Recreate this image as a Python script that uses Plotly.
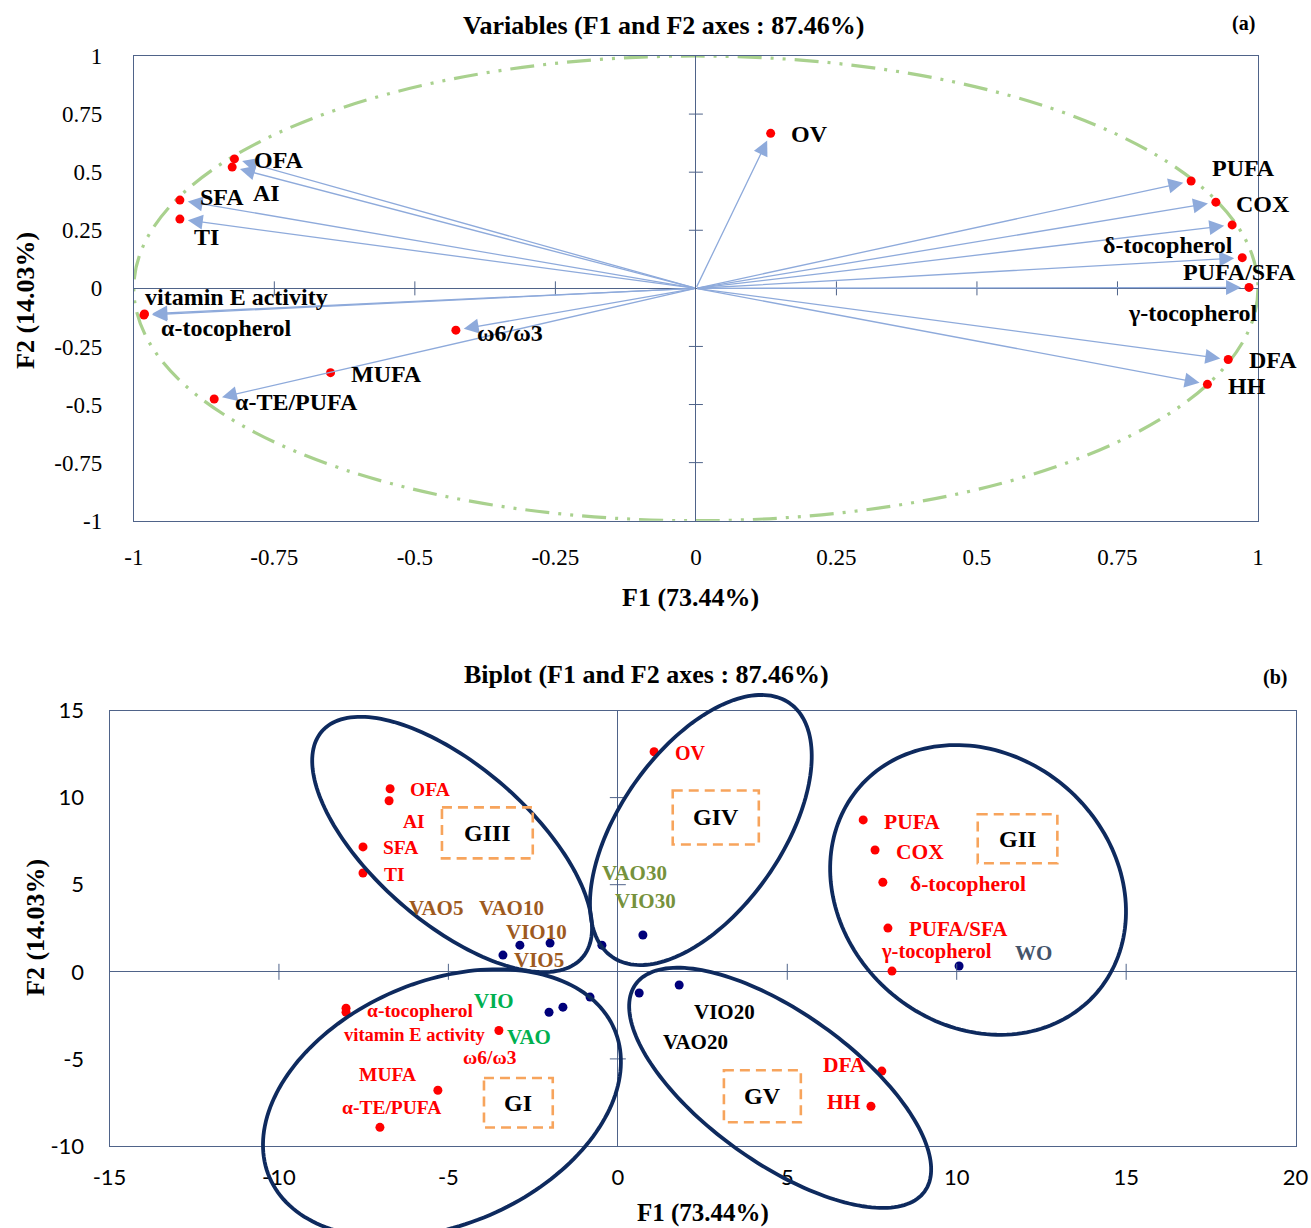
import numpy as np
import plotly.graph_objects as go

# ---------------------------------------------------------------- data
VARIABLES = ["OV", "OFA", "AI", "SFA", "TI", "vitamin E activity", "α-tocopherol",
             "ω6/ω3", "MUFA", "α-TE/PUFA", "PUFA", "COX", "δ-tocopherol",
             "PUFA/SFA", "γ-tocopherol", "DFA", "HH"]
LOADING_F1 = [0.133, -0.821, -0.825, -0.918, -0.918, -0.981, -0.982,
              -0.427, -0.650, -0.857, 0.881, 0.925, 0.954,
              0.972, 0.984, 0.947, 0.910]
LOADING_F2 = [0.667, 0.557, 0.522, 0.380, 0.298, -0.110, -0.115,
              -0.180, -0.363, -0.476, 0.462, 0.371, 0.273,
              0.132, 0.004, -0.306, -0.413]
BIPLOT_VAR_F1 = [1.07, -6.72, -6.75, -7.52, -7.52, -8.02, -8.02,
                 -3.51, -5.31, -7.02, 7.24, 7.59, 7.82,
                 7.97, 8.09, 7.79, 7.47]
BIPLOT_VAR_F2 = [12.63, 10.51, 9.82, 7.17, 5.67, -2.32, -2.09,
                 -3.37, -6.80, -8.93, 8.72, 6.99, 5.14,
                 2.51, 0.04, -5.70, -7.72]
OBSERVATIONS = ["VAO", "VAO5", "VAO10", "VAO20", "VAO30",
                "VIO", "VIO5", "VIO10", "VIO20", "VIO30", "WO"]
OBS_F1 = [-1.62, -3.39, -2.00, 0.63, 0.74, -2.03, -2.89, -0.82, 1.81, -0.47, 10.07]
OBS_F2 = [-2.03, 0.96, 1.65, -1.22, 2.11, -2.32, 1.53, -1.45, -0.76, 1.53, 0.33]
GROUPS = ["GI", "GII", "GIII", "GIV", "GV"]

A_XTICKS = [-1, -0.75, -0.5, -0.25, 0, 0.25, 0.5, 0.75, 1]
A_YTICKS = [-1, -0.75, -0.5, -0.25, 0, 0.25, 0.5, 0.75, 1]
B_XTICKS = [-15, -10, -5, 0, 5, 10, 15, 20]
B_YTICKS = [-10, -5, 0, 5, 10, 15]
A_TITLE = "Variables (F1 and F2 axes : 87.46%)"
B_TITLE = "Biplot (F1 and F2 axes : 87.46%)"
X_LABEL = "F1 (73.44%)"
Y_LABEL = "F2 (14.03%)"
NO_ARROW = ["MUFA"]

# ---------------------------------------------------------------- styles
W, H = 1311, 1228
SERIF = "Liberation Serif"
SANS = "Lato"
FRAME_COL = "#4F6389"
RED = "#FF0000"
NAVY = "#00007A"
ARROW_COL = "#8EAADB"
CIRCLE_COL = "#A9D18E"
ELL_COL = "#0E2A5E"
BOX_COL = "#F7A45C"

# plot frames in pixels: left, top, right, bottom
A_FRAME = (133.8, 56.0, 1258.0, 520.7)
B_FRAME = (109.5, 710.5, 1295.6, 1146.0)
A_RANGE = ([-1, 1], [-1, 1])
B_RANGE = ([-15, 20], [-10, 15])


def dom(frame):
    l, t, r, b = frame
    return [l / W, r / W], [1 - b / H, 1 - t / H]


A_DX, A_DY = dom(A_FRAME)
B_DX, B_DY = dom(B_FRAME)

# label placement: anchor, x shift px, y shift px (up positive), font size
A_LABEL = {
    "OV": ("left", 18, -1), "OFA": ("left", 18, -1), "AI": ("left", 19, -26),
    "SFA": ("left", 18, 3), "TI": ("left", 12, -18),
    "vitamin E activity": ("left", -1, 17), "α-tocopherol": ("left", 15, -13),
    "ω6/ω3": ("left", 19, -3), "MUFA": ("left", 18, -1), "α-TE/PUFA": ("left", 19, -3),
    "PUFA": ("left", 19, 13), "COX": ("left", 18, -2), "δ-tocopherol": ("right", 3, -20),
    "PUFA/SFA": ("center", -3, -14), "γ-tocopherol": ("right", 10, -26),
    "DFA": ("left", 19, -1), "HH": ("left", 19, -2),
}
B_LABEL = {
    "OV": ("left", 19, -1, 20), "OFA": ("left", 18, -1, 19.5), "AI": ("left", 12, -21, 19.5),
    "SFA": ("left", 18, -1, 19.5), "TI": ("left", 19, -1, 19.5),
    "vitamin E activity": ("left", -4, -23, 18.5), "α-tocopherol": ("left", 19, -2, 19.5),
    "ω6/ω3": ("center", -9, -27, 19.5), "MUFA": ("right", -20, 16, 19.5),
    "α-TE/PUFA": ("center", 12, 20, 19.5),
    "PUFA": ("left", 19, -2, 21.5), "COX": ("left", 19, -2, 21.5),
    "δ-tocopherol": ("left", 25, -2, 21.5), "PUFA/SFA": ("left", 19, -1, 21),
    "γ-tocopherol": ("center", 45, 20, 20.5), "DFA": ("right", -14, 6, 21.5),
    "HH": ("right", -8, 4, 21.5),
}
OBS_LABEL = {  # centre anchored: dx, dy, colour
    "VAO5": (-67, 47, "#9E5A1E"), "VIO5": (19, -15, "#9E5A1E"),
    "VAO10": (-39, 35, "#9E5A1E"), "VIO10": (-54, 65, "#9E5A1E"),
    "VAO30": (-8, 62, "#76923C"), "VIO30": (44, 44, "#76923C"),
    "VIO": (-55, 11, "#00B050"), "VAO": (-34, -30, "#00B050"),
    "VIO20": (45, -27, "#000000"), "VAO20": (56, -49, "#000000"),
    "WO": (74, 13, "#44546A"),
}
# group ellipses: centre (data), semi axes (px), angle deg; label box (data)
GROUP_SHAPE = {
    "GI": dict(c=(-5.19, -7.55), a=187.7, b=121.5, ang=23.3, box=(-3.95, -6.10, -1.92, -8.94)),
    "GII": dict(c=(10.63, 4.70), a=157.0, b=135.0, ang=-41.0, box=(10.62, 9.04, 12.97, 6.23)),
    "GIII": dict(c=(-4.89, 7.31), a=172.5, b=78.2, ang=-41.0, box=(-5.19, 9.44, -2.51, 6.51)),
    "GIV": dict(c=(2.45, 8.14), a=154.8, b=81.1, ang=55.0, box=(1.62, 10.41, 4.16, 7.31)),
    "GV": dict(c=(4.79, -6.66), a=177.8, b=74.9, ang=-35.6, box=(3.13, -5.65, 5.40, -8.64)),
}

fig = go.Figure()

# ---------------------------------------------------------------- panel (a)
fig.add_trace(go.Scatter(x=LOADING_F1, y=LOADING_F2, mode="markers", xaxis="x", yaxis="y",
                         marker=dict(color=RED, size=9), cliponaxis=False,
                         hoverinfo="skip", showlegend=False))
annotations = []
for name, fx, fy in zip(VARIABLES, LOADING_F1, LOADING_F2):
    if name not in NO_ARROW:
        annotations.append(dict(x=fx, y=fy, ax=0, ay=0, xref="x", yref="y", axref="x", ayref="y",
                                showarrow=True, arrowhead=2, arrowsize=2.3, arrowwidth=1.3,
                                arrowcolor=ARROW_COL, standoff=8, text=""))
for name, fx, fy in zip(VARIABLES, LOADING_F1, LOADING_F2):
    anc, dx, dy = A_LABEL[name]
    annotations.append(dict(x=fx, y=fy, xref="x", yref="y", text="<b>%s</b>" % name,
                            showarrow=False, xanchor=anc, yanchor="middle", xshift=dx, yshift=dy,
                            font=dict(family=SERIF, size=24, color="black")))

shapes = [dict(type="circle", xref="x", yref="y", x0=-1, y0=-1, x1=1, y1=1,
               line=dict(color=CIRCLE_COL, width=3.2, dash="24px,9px,3px,9px,3px,9px"), layer="below")]
for t in A_XTICKS:
    if t not in (-1, 0, 1):
        shapes.append(dict(type="line", xref="x", yref="y", x0=t, x1=t, ysizemode="pixel", yanchor=0,
                           y0=-7, y1=7, line=dict(color=FRAME_COL, width=1)))
for t in A_YTICKS:
    if t not in (-1, 0, 1):
        shapes.append(dict(type="line", xref="x", yref="y", y0=t, y1=t, xsizemode="pixel", xanchor=0,
                           x0=-7, x1=7, line=dict(color=FRAME_COL, width=1)))

# ---------------------------------------------------------------- panel (b)
fig.add_trace(go.Scatter(x=BIPLOT_VAR_F1, y=BIPLOT_VAR_F2, mode="markers", xaxis="x2", yaxis="y2",
                         marker=dict(color=RED, size=9), cliponaxis=False,
                         hoverinfo="skip", showlegend=False))
fig.add_trace(go.Scatter(x=OBS_F1, y=OBS_F2, mode="markers", xaxis="x2", yaxis="y2",
                         marker=dict(color=NAVY, size=9), cliponaxis=False,
                         hoverinfo="skip", showlegend=False))
for name, fx, fy in zip(VARIABLES, BIPLOT_VAR_F1, BIPLOT_VAR_F2):
    anc, dx, dy, fs = B_LABEL[name]
    annotations.append(dict(x=fx, y=fy, xref="x2", yref="y2", text="<b>%s</b>" % name,
                            showarrow=False, xanchor=anc, yanchor="middle", xshift=dx, yshift=dy,
                            font=dict(family=SERIF, size=fs, color=RED)))
for name, fx, fy in zip(OBSERVATIONS, OBS_F1, OBS_F2):
    dx, dy, col = OBS_LABEL[name]
    annotations.append(dict(x=fx, y=fy, xref="x2", yref="y2", text="<b>%s</b>" % name,
                            showarrow=False, xanchor="center", yanchor="middle", xshift=dx, yshift=dy,
                            font=dict(family=SERIF, size=21, color=col)))

for t in B_XTICKS:
    if t not in (B_XTICKS[0], 0, B_XTICKS[-1]):
        shapes.append(dict(type="line", xref="x2", yref="y2", x0=t, x1=t, ysizemode="pixel", yanchor=0,
                           y0=-8, y1=8, line=dict(color=FRAME_COL, width=1)))
for t in B_YTICKS:
    if t not in (B_YTICKS[0], 0, B_YTICKS[-1]):
        shapes.append(dict(type="line", xref="x2", yref="y2", y0=t, y1=t, xsizemode="pixel", xanchor=0,
                           x0=-8, x1=8, line=dict(color=FRAME_COL, width=1)))


def b_to_paper(x, y):
    (x0, x1), (y0, y1) = B_RANGE
    px = B_DX[0] + (x - x0) / (x1 - x0) * (B_DX[1] - B_DX[0])
    py = B_DY[0] + (y - y0) / (y1 - y0) * (B_DY[1] - B_DY[0])
    return px, py


tt = np.linspace(0, 2 * np.pi, 181)
for g in GROUPS:
    s = GROUP_SHAPE[g]
    cx, cy = b_to_paper(*s["c"])
    th = np.radians(s["ang"])
    ex = s["a"] * np.cos(tt) * np.cos(th) - s["b"] * np.sin(tt) * np.sin(th)
    ey = s["a"] * np.cos(tt) * np.sin(th) + s["b"] * np.sin(tt) * np.cos(th)
    pts = ["%.5f,%.5f" % (cx + u / W, cy + v / H) for u, v in zip(ex, ey)]
    path = "M" + " L".join(pts) + " Z"
    shapes.append(dict(type="path", xref="paper", yref="paper", path=path,
                       line=dict(color=ELL_COL, width=3.8)))
    bx0, by0, bx1, by1 = s["box"]
    shapes.append(dict(type="rect", xref="x2", yref="y2", x0=bx0, y0=by0, x1=bx1, y1=by1,
                       line=dict(color=BOX_COL, width=2.6, dash="10px,6px")))
    annotations.append(dict(x=(bx0 + bx1) / 2, y=(by0 + by1) / 2, xref="x2", yref="y2",
                            text="<b>%s</b>" % g, showarrow=False, xanchor="center", yanchor="middle",
                            font=dict(family=SERIF, size=24, color="black")))

# ---------------------------------------------------------------- titles


def pp(px, py):
    return px / W, 1 - py / H


for txt, (px, py), size, ang in [
    (A_TITLE, (663, 25), 26, 0), ("(a)", (1243, 23), 20, 0),
    (X_LABEL, (690, 597), 26, 0), (Y_LABEL, (25, 301), 26, -90),
    (B_TITLE, (646, 674), 26, 0), ("(b)", (1275, 677), 20, 0),
    (X_LABEL, (703, 1213), 25, 0), (Y_LABEL, (35, 928), 26, -90),
]:
    x, y = pp(px, py)
    annotations.append(dict(x=x, y=y, xref="paper", yref="paper", text="<b>%s</b>" % txt,
                            showarrow=False, xanchor="center", yanchor="middle", textangle=ang,
                            font=dict(family=SERIF, size=size, color="black")))


def fmt(v):
    return "%g" % v


axis_common = dict(showgrid=False, showline=True, mirror=True, linecolor=FRAME_COL, linewidth=1,
                   zeroline=True, zerolinecolor=FRAME_COL, zerolinewidth=1, ticks="",
                   tickmode="array", fixedrange=True, automargin=False)

fig.update_layout(
    width=W, height=H, autosize=False,
    margin=dict(l=0, r=0, t=0, b=0, pad=0, autoexpand=False),
    paper_bgcolor="white", plot_bgcolor="white",
    showlegend=False,
    xaxis=dict(domain=A_DX, range=A_RANGE[0], anchor="y", tickvals=A_XTICKS,
               ticktext=[fmt(v) for v in A_XTICKS], ticklabelstandoff=16,
               tickfont=dict(family=SERIF, size=23, color="black"), **axis_common),
    yaxis=dict(domain=A_DY, range=A_RANGE[1], anchor="x", tickvals=A_YTICKS,
               ticktext=[fmt(v) for v in A_YTICKS], ticklabelstandoff=26,
               tickfont=dict(family=SERIF, size=23, color="black"), **axis_common),
    xaxis2=dict(domain=B_DX, range=B_RANGE[0], anchor="y2", tickvals=B_XTICKS,
                ticktext=[fmt(v) for v in B_XTICKS], ticklabelstandoff=12,
                tickfont=dict(family=SANS, size=22, color="black"), **axis_common),
    yaxis2=dict(domain=B_DY, range=B_RANGE[1], anchor="x2", tickvals=B_YTICKS,
                ticktext=[fmt(v) for v in B_YTICKS], ticklabelstandoff=20,
                tickfont=dict(family=SANS, size=22, color="black"), **axis_common),
    shapes=shapes,
    annotations=annotations,
)

fig.write_html("out.html", config={"displayModeBar": False},
               post_script="document.body.style.margin='0px';document.body.style.overflow='hidden';")
